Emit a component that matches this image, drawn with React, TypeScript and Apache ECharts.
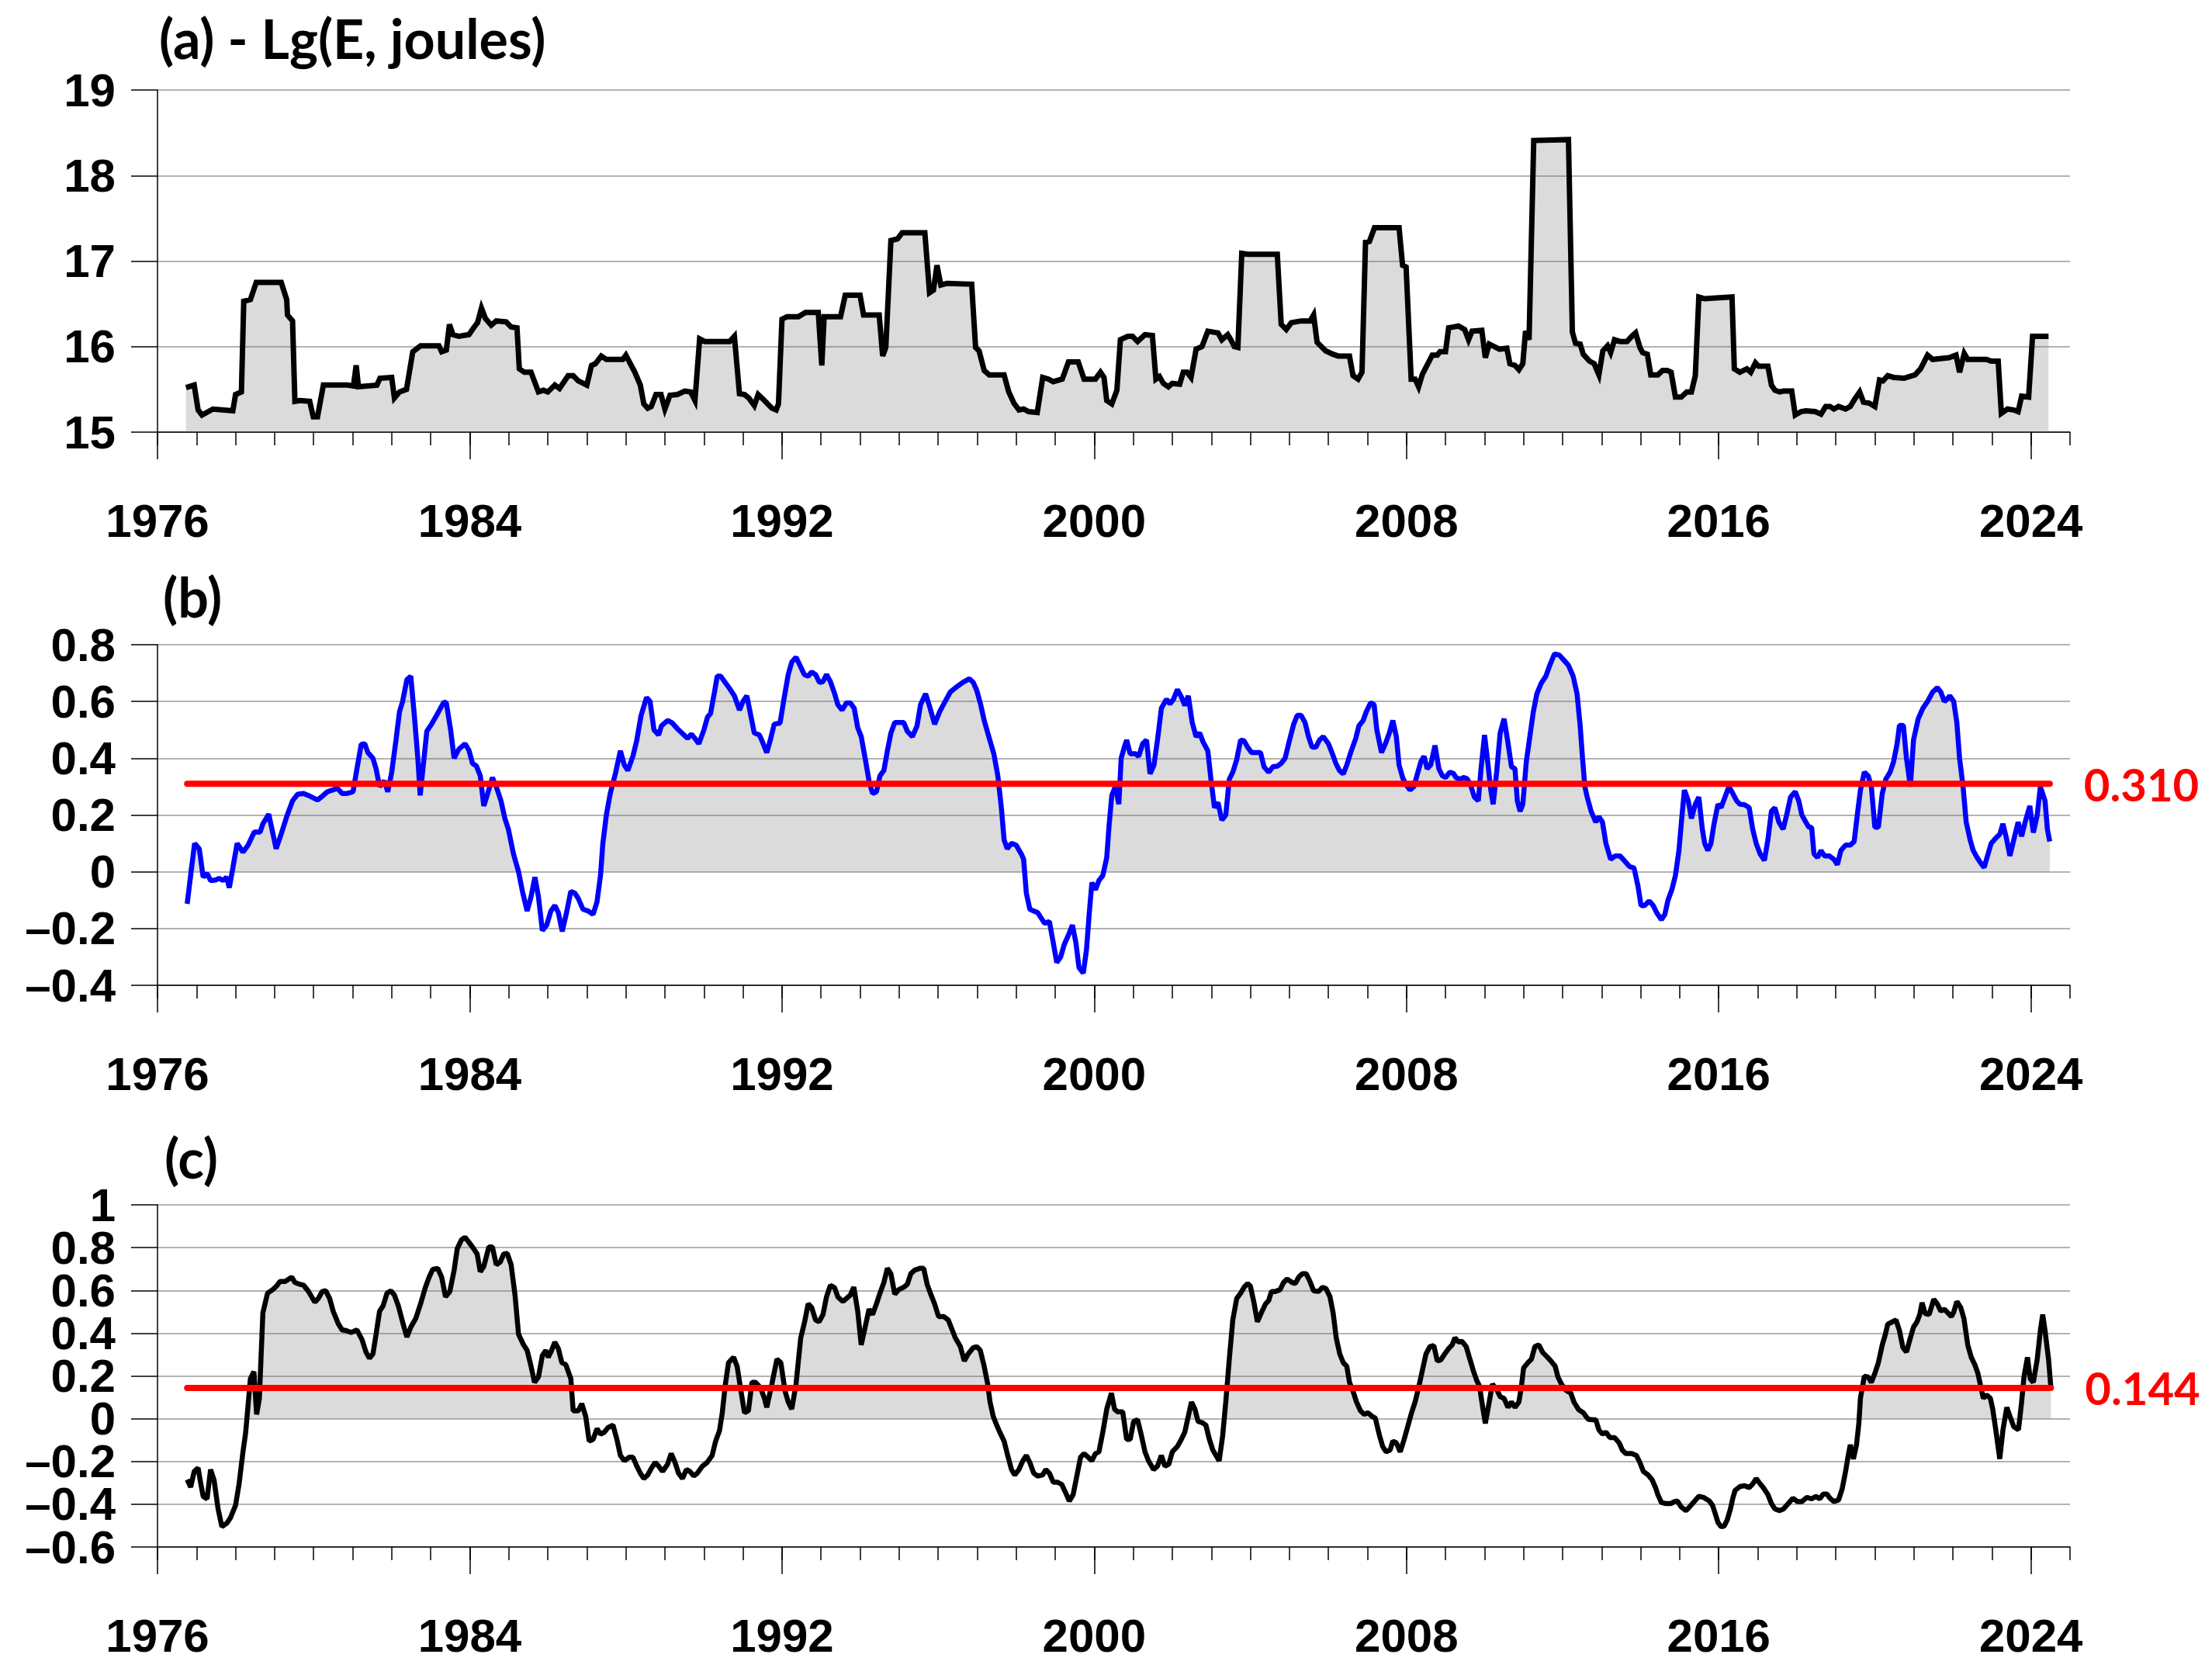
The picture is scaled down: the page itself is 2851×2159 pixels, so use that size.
import React, { useEffect, useRef } from "react";
import * as echarts from "echarts";

const X_MIN = 1976;
const X_MAX = 2025;
const yearLabels = [1976, 1984, 1992, 2000, 2008, 2016, 2024];
const titles = ["(a) - Lg(E, joules)", "(b)", "(c)"];
const thresholdB = 0.31;
const thresholdC = 0.144;

const energyLg: [number, number][] = [
  [1976.73,15.52],[1976.94,15.55],[1977.04,15.26],[1977.14,15.2],[1977.42,15.27],[1977.93,15.25],[1978.0,15.44],[1978.15,15.47],
  [1978.21,16.53],[1978.38,16.55],[1978.53,16.75],[1979.17,16.75],[1979.31,16.55],[1979.33,16.37],[1979.46,16.3],[1979.52,15.36],
  [1979.65,15.37],[1979.9,15.36],[1979.99,15.18],[1980.1,15.18],[1980.25,15.55],[1980.86,15.55],[1981.02,15.54],[1981.09,15.78],
  [1981.15,15.53],[1981.62,15.55],[1981.7,15.63],[1982.0,15.64],[1982.07,15.4],[1982.2,15.47],[1982.38,15.5],[1982.54,15.94],
  [1982.74,16.01],[1983.21,16.01],[1983.28,15.94],[1983.4,15.96],[1983.48,16.26],[1983.57,16.14],[1983.72,16.12],[1983.98,16.14],
  [1984.1,16.22],[1984.2,16.28],[1984.3,16.45],[1984.4,16.33],[1984.55,16.25],[1984.68,16.3],[1984.93,16.29],[1985.06,16.23],
  [1985.21,16.22],[1985.27,15.74],[1985.4,15.7],[1985.57,15.7],[1985.76,15.47],[1985.89,15.49],[1986.0,15.47],[1986.18,15.55],
  [1986.3,15.51],[1986.52,15.66],[1986.65,15.66],[1986.78,15.6],[1987.0,15.55],[1987.12,15.78],[1987.22,15.8],[1987.37,15.89],
  [1987.5,15.85],[1987.92,15.85],[1988.0,15.9],[1988.23,15.7],[1988.37,15.55],[1988.46,15.33],[1988.56,15.28],[1988.65,15.3],
  [1988.77,15.44],[1988.9,15.44],[1989.0,15.27],[1989.13,15.43],[1989.32,15.44],[1989.51,15.48],[1989.66,15.47],[1989.77,15.37],
  [1989.89,16.09],[1990.02,16.06],[1990.66,16.06],[1990.78,16.12],[1990.91,15.45],[1991.04,15.44],[1991.15,15.4],[1991.29,15.31],
  [1991.39,15.44],[1991.55,15.37],[1991.74,15.28],[1991.85,15.26],[1991.91,15.33],[1992.0,16.32],[1992.13,16.35],[1992.42,16.35],
  [1992.6,16.4],[1992.93,16.4],[1993.02,15.78],[1993.08,16.35],[1993.5,16.35],[1993.62,16.6],[1994.0,16.6],[1994.09,16.37],
  [1994.49,16.37],[1994.58,15.89],[1994.66,15.99],[1994.79,17.24],[1994.96,17.26],[1995.08,17.33],[1995.66,17.33],[1995.78,16.63],
  [1995.88,16.66],[1995.97,16.95],[1996.07,16.72],[1996.23,16.74],[1996.86,16.73],[1996.96,15.99],[1997.05,15.95],[1997.18,15.72],
  [1997.31,15.67],[1997.69,15.67],[1997.81,15.47],[1997.94,15.34],[1998.07,15.26],[1998.19,15.27],[1998.32,15.24],[1998.54,15.23],
  [1998.68,15.64],[1998.83,15.62],[1998.95,15.59],[1999.18,15.62],[1999.34,15.82],[1999.59,15.82],[1999.74,15.62],[2000.03,15.62],
  [2000.16,15.7],[2000.25,15.64],[2000.32,15.37],[2000.45,15.33],[2000.58,15.49],[2000.67,16.08],[2000.86,16.12],[2000.98,16.12],
  [2001.11,16.06],[2001.3,16.14],[2001.49,16.13],[2001.58,15.62],[2001.67,15.65],[2001.77,15.57],[2001.9,15.53],[2002.0,15.57],
  [2002.19,15.56],[2002.28,15.7],[2002.38,15.7],[2002.48,15.64],[2002.61,15.97],[2002.76,16.0],[2002.91,16.18],[2003.17,16.16],
  [2003.27,16.08],[2003.42,16.14],[2003.5,16.08],[2003.59,16.0],[2003.68,15.99],[2003.78,17.09],[2003.93,17.08],[2004.69,17.08],
  [2004.79,16.26],[2004.92,16.2],[2005.05,16.28],[2005.3,16.3],[2005.53,16.3],[2005.62,16.37],[2005.71,16.05],[2005.93,15.95],
  [2006.12,15.91],[2006.25,15.89],[2006.54,15.89],[2006.63,15.66],[2006.76,15.62],[2006.86,15.7],[2006.95,17.22],[2007.05,17.23],
  [2007.18,17.39],[2007.81,17.39],[2007.9,16.95],[2007.99,16.93],[2008.12,15.62],[2008.22,15.62],[2008.31,15.53],[2008.41,15.68],
  [2008.57,15.82],[2008.66,15.9],[2008.79,15.9],[2008.86,15.94],[2009.0,15.94],[2009.08,16.22],[2009.21,16.23],[2009.33,16.24],
  [2009.49,16.2],[2009.59,16.08],[2009.68,16.18],[2009.93,16.19],[2010.02,15.87],[2010.12,16.03],[2010.25,16.0],[2010.38,15.97],
  [2010.57,15.98],[2010.65,15.8],[2010.78,15.78],[2010.88,15.73],[2010.98,15.8],[2011.05,16.18],[2011.14,16.08],[2011.26,18.41],
  [2012.15,18.42],[2012.25,16.17],[2012.33,16.04],[2012.45,16.03],[2012.53,15.91],[2012.69,15.83],[2012.81,15.8],[2012.93,15.67],
  [2013.03,15.95],[2013.15,16.01],[2013.23,15.93],[2013.33,16.08],[2013.47,16.06],[2013.65,16.06],[2013.77,16.12],[2013.87,16.16],
  [2013.98,15.99],[2014.05,15.93],[2014.17,15.91],[2014.26,15.67],[2014.44,15.67],[2014.56,15.72],[2014.68,15.72],[2014.78,15.7],
  [2014.89,15.41],[2015.04,15.41],[2015.18,15.47],[2015.3,15.47],[2015.4,15.66],[2015.49,16.58],[2015.64,16.56],[2016.34,16.58],
  [2016.4,15.74],[2016.54,15.7],[2016.72,15.74],[2016.82,15.7],[2016.94,15.81],[2017.02,15.77],[2017.26,15.77],[2017.35,15.55],
  [2017.44,15.49],[2017.56,15.47],[2017.66,15.48],[2017.87,15.48],[2017.96,15.2],[2018.11,15.24],[2018.23,15.25],[2018.47,15.24],
  [2018.62,15.21],[2018.74,15.3],[2018.85,15.3],[2018.95,15.27],[2019.07,15.3],[2019.25,15.27],[2019.37,15.3],[2019.49,15.39],
  [2019.61,15.47],[2019.71,15.35],[2019.85,15.34],[2020.0,15.3],[2020.12,15.61],[2020.21,15.6],[2020.33,15.66],[2020.48,15.64],
  [2020.75,15.63],[2021.03,15.67],[2021.17,15.74],[2021.35,15.9],[2021.48,15.85],[2021.9,15.87],[2022.08,15.9],[2022.17,15.7],
  [2022.29,15.92],[2022.38,15.85],[2022.86,15.85],[2022.98,15.83],[2023.16,15.83],[2023.24,15.22],[2023.4,15.27],[2023.55,15.26],
  [2023.67,15.24],[2023.76,15.42],[2023.94,15.41],[2024.04,16.12],[2024.18,16.12],[2024.45,16.12],
];

const corrB: [number, number][] = [
  [1976.76,-0.113],[1976.95,0.1],[1977.07,0.081],[1977.17,-0.019],[1977.27,-0.006],[1977.36,-0.031],[1977.49,-0.029],[1977.58,-0.023],
  [1977.68,-0.031],[1977.77,-0.019],[1977.84,-0.056],[1977.93,0.013],[1978.04,0.1],[1978.19,0.069],[1978.32,0.094],[1978.48,0.14],
  [1978.63,0.14],[1978.7,0.169],[1978.85,0.203],[1979.04,0.081],[1979.18,0.138],[1979.31,0.194],[1979.46,0.25],[1979.59,0.273],
  [1979.74,0.276],[1979.91,0.266],[1980.1,0.253],[1980.22,0.266],[1980.35,0.282],[1980.48,0.288],[1980.61,0.294],[1980.73,0.276],
  [1980.86,0.276],[1981.01,0.282],[1981.11,0.363],[1981.22,0.449],[1981.31,0.451],[1981.39,0.42],[1981.52,0.4],[1981.6,0.363],
  [1981.69,0.3],[1981.81,0.32],[1981.9,0.282],[1982.0,0.35],[1982.11,0.464],[1982.2,0.564],[1982.28,0.6],[1982.39,0.677],
  [1982.49,0.689],[1982.58,0.551],[1982.67,0.4],[1982.73,0.269],[1982.81,0.376],[1982.9,0.495],[1983.02,0.52],[1983.15,0.551],
  [1983.25,0.576],[1983.34,0.598],[1983.4,0.595],[1983.51,0.5],[1983.6,0.4],[1983.72,0.432],[1983.88,0.451],[1983.98,0.428],
  [1984.07,0.382],[1984.17,0.373],[1984.27,0.338],[1984.36,0.232],[1984.46,0.276],[1984.58,0.332],[1984.68,0.3],[1984.8,0.25],
  [1984.9,0.188],[1984.99,0.15],[1985.12,0.063],[1985.25,0.0],[1985.35,-0.069],[1985.47,-0.138],[1985.57,-0.088],[1985.67,-0.019],
  [1985.76,-0.088],[1985.86,-0.207],[1985.97,-0.188],[1986.08,-0.138],[1986.18,-0.119],[1986.27,-0.144],[1986.37,-0.21],[1986.48,-0.144],
  [1986.59,-0.069],[1986.69,-0.075],[1986.78,-0.094],[1986.9,-0.132],[1987.03,-0.138],[1987.16,-0.15],[1987.26,-0.106],[1987.35,-0.013],
  [1987.41,0.1],[1987.5,0.2],[1987.6,0.276],[1987.73,0.345],[1987.86,0.426],[1987.96,0.376],[1988.05,0.357],[1988.18,0.407],
  [1988.28,0.464],[1988.39,0.551],[1988.53,0.614],[1988.62,0.6],[1988.72,0.5],[1988.84,0.482],[1988.91,0.514],[1989.07,0.533],
  [1989.19,0.524],[1989.32,0.504],[1989.49,0.482],[1989.58,0.47],[1989.68,0.485],[1989.77,0.47],[1989.87,0.451],[1990.0,0.5],
  [1990.09,0.545],[1990.17,0.558],[1990.27,0.633],[1990.34,0.689],[1990.43,0.689],[1990.53,0.67],[1990.66,0.645],[1990.78,0.62],
  [1990.91,0.57],[1991.0,0.6],[1991.1,0.62],[1991.19,0.558],[1991.29,0.489],[1991.42,0.482],[1991.48,0.464],[1991.61,0.42],
  [1991.7,0.464],[1991.8,0.52],[1991.95,0.524],[1992.04,0.6],[1992.16,0.695],[1992.25,0.739],[1992.36,0.756],[1992.46,0.727],
  [1992.57,0.695],[1992.67,0.689],[1992.76,0.704],[1992.86,0.695],[1992.96,0.667],[1993.05,0.67],[1993.14,0.695],[1993.24,0.67],
  [1993.35,0.627],[1993.43,0.589],[1993.54,0.57],[1993.65,0.595],[1993.75,0.595],[1993.85,0.576],[1993.94,0.508],[1994.03,0.476],
  [1994.13,0.4],[1994.23,0.32],[1994.32,0.276],[1994.42,0.282],[1994.51,0.338],[1994.61,0.357],[1994.7,0.426],[1994.79,0.489],
  [1994.89,0.526],[1995.12,0.526],[1995.21,0.495],[1995.34,0.476],[1995.46,0.514],[1995.55,0.589],[1995.68,0.627],[1995.78,0.583],
  [1995.91,0.52],[1996.04,0.564],[1996.16,0.595],[1996.31,0.633],[1996.48,0.652],[1996.64,0.668],[1996.8,0.68],[1996.9,0.667],
  [1996.99,0.639],[1997.09,0.589],[1997.18,0.533],[1997.3,0.476],[1997.43,0.414],[1997.53,0.338],[1997.62,0.226],[1997.69,0.113],
  [1997.77,0.081],[1997.88,0.1],[1998.0,0.094],[1998.13,0.063],[1998.19,0.044],[1998.26,-0.075],[1998.35,-0.132],[1998.45,-0.138],
  [1998.55,-0.144],[1998.64,-0.163],[1998.73,-0.182],[1998.85,-0.175],[1998.95,-0.25],[1999.04,-0.32],[1999.14,-0.3],[1999.23,-0.257],
  [1999.33,-0.226],[1999.44,-0.188],[1999.53,-0.25],[1999.61,-0.338],[1999.72,-0.357],[1999.8,-0.276],[1999.87,-0.15],[1999.94,-0.038],
  [2000.03,-0.063],[2000.12,-0.031],[2000.22,-0.013],[2000.32,0.05],[2000.38,0.163],[2000.45,0.269],[2000.54,0.3],[2000.63,0.238],
  [2000.69,0.4],[2000.77,0.439],[2000.83,0.464],[2000.92,0.416],[2001.05,0.416],[2001.14,0.407],[2001.24,0.451],[2001.34,0.464],
  [2001.43,0.345],[2001.53,0.376],[2001.62,0.464],[2001.72,0.576],[2001.85,0.608],[2001.94,0.591],[2002.03,0.608],[2002.13,0.642],
  [2002.23,0.617],[2002.32,0.586],[2002.41,0.62],[2002.51,0.526],[2002.61,0.476],[2002.7,0.489],[2002.79,0.457],[2002.91,0.426],
  [2002.99,0.326],[2003.08,0.226],[2003.17,0.244],[2003.27,0.182],[2003.37,0.2],[2003.46,0.326],[2003.55,0.351],[2003.65,0.395],
  [2003.75,0.464],[2003.84,0.461],[2003.93,0.439],[2004.03,0.42],[2004.26,0.42],[2004.35,0.37],[2004.47,0.351],[2004.58,0.37],
  [2004.69,0.372],[2004.79,0.382],[2004.89,0.4],[2004.98,0.451],[2005.11,0.52],[2005.2,0.551],[2005.3,0.551],[2005.4,0.526],
  [2005.49,0.476],[2005.58,0.439],[2005.68,0.439],[2005.77,0.464],[2005.87,0.476],[2006.0,0.451],[2006.09,0.42],[2006.19,0.382],
  [2006.28,0.357],[2006.38,0.345],[2006.47,0.376],[2006.57,0.42],[2006.7,0.47],[2006.78,0.514],[2006.89,0.533],[2006.97,0.564],
  [2007.08,0.595],[2007.17,0.589],[2007.24,0.5],[2007.36,0.42],[2007.46,0.451],[2007.56,0.489],[2007.65,0.533],[2007.74,0.476],
  [2007.81,0.376],[2007.9,0.332],[2007.99,0.307],[2008.09,0.288],[2008.19,0.3],[2008.28,0.345],[2008.37,0.388],[2008.45,0.407],
  [2008.53,0.363],[2008.62,0.376],[2008.73,0.445],[2008.83,0.363],[2008.92,0.338],[2009.0,0.332],[2009.11,0.351],[2009.2,0.347],
  [2009.27,0.332],[2009.36,0.326],[2009.46,0.332],[2009.55,0.328],[2009.64,0.307],[2009.74,0.263],[2009.84,0.25],[2009.91,0.363],
  [2010.0,0.482],[2010.08,0.388],[2010.16,0.288],[2010.22,0.238],[2010.31,0.351],[2010.4,0.489],[2010.5,0.539],[2010.59,0.464],
  [2010.69,0.37],[2010.78,0.363],[2010.84,0.25],[2010.91,0.213],[2010.98,0.238],[2011.07,0.388],[2011.16,0.476],[2011.25,0.564],
  [2011.34,0.627],[2011.45,0.664],[2011.57,0.689],[2011.67,0.727],[2011.79,0.767],[2011.91,0.764],[2012.03,0.746],[2012.15,0.727],
  [2012.27,0.689],[2012.37,0.627],[2012.45,0.514],[2012.51,0.4],[2012.57,0.3],[2012.63,0.263],[2012.73,0.213],[2012.85,0.175],
  [2012.93,0.194],[2013.02,0.175],[2013.11,0.1],[2013.23,0.044],[2013.35,0.056],[2013.47,0.056],[2013.59,0.038],[2013.71,0.019],
  [2013.83,0.013],[2013.93,-0.05],[2014.01,-0.119],[2014.1,-0.119],[2014.22,-0.103],[2014.32,-0.119],[2014.41,-0.144],[2014.53,-0.169],
  [2014.62,-0.15],[2014.7,-0.1],[2014.8,-0.063],[2014.89,-0.013],[2014.98,0.075],[2015.06,0.2],[2015.12,0.288],[2015.22,0.25],
  [2015.3,0.188],[2015.4,0.238],[2015.49,0.263],[2015.58,0.15],[2015.64,0.1],[2015.72,0.075],[2015.8,0.1],[2015.88,0.169],
  [2015.98,0.238],[2016.06,0.226],[2016.16,0.263],[2016.26,0.3],[2016.36,0.276],[2016.46,0.25],[2016.54,0.238],[2016.66,0.236],
  [2016.78,0.226],[2016.87,0.15],[2016.96,0.1],[2017.06,0.063],[2017.17,0.04],[2017.26,0.113],[2017.35,0.213],[2017.44,0.226],
  [2017.54,0.175],[2017.65,0.15],[2017.74,0.2],[2017.84,0.263],[2017.96,0.282],[2018.05,0.25],[2018.13,0.2],[2018.23,0.175],
  [2018.31,0.157],[2018.38,0.157],[2018.44,0.063],[2018.53,0.05],[2018.62,0.075],[2018.71,0.056],[2018.83,0.056],[2018.95,0.044],
  [2019.04,0.025],[2019.13,0.075],[2019.25,0.094],[2019.37,0.094],[2019.47,0.107],[2019.55,0.2],[2019.63,0.288],[2019.73,0.351],
  [2019.83,0.338],[2019.91,0.3],[2020.0,0.157],[2020.09,0.157],[2020.19,0.276],[2020.28,0.326],[2020.39,0.351],[2020.48,0.388],
  [2020.57,0.451],[2020.63,0.516],[2020.73,0.516],[2020.81,0.4],[2020.91,0.3],[2020.99,0.464],[2021.11,0.539],[2021.23,0.576],
  [2021.35,0.6],[2021.48,0.633],[2021.6,0.649],[2021.69,0.633],[2021.78,0.6],[2021.85,0.608],[2021.92,0.62],[2022.02,0.6],
  [2022.1,0.526],[2022.17,0.4],[2022.26,0.3],[2022.34,0.175],[2022.44,0.113],[2022.52,0.075],[2022.62,0.05],[2022.71,0.031],
  [2022.8,0.015],[2022.9,0.063],[2022.98,0.1],[2023.1,0.119],[2023.2,0.132],[2023.28,0.169],[2023.36,0.125],[2023.46,0.056],
  [2023.56,0.113],[2023.67,0.175],[2023.76,0.125],[2023.85,0.175],[2023.97,0.232],[2024.06,0.138],[2024.16,0.2],[2024.24,0.3],
  [2024.36,0.25],[2024.42,0.15],[2024.48,0.107],
];

const corrC: [number, number][] = [
  [1976.76,-0.285],[1976.85,-0.32],[1976.94,-0.247],[1977.04,-0.23],[1977.11,-0.305],[1977.17,-0.363],[1977.27,-0.375],[1977.36,-0.238],
  [1977.45,-0.288],[1977.55,-0.42],[1977.65,-0.505],[1977.78,-0.488],[1977.87,-0.463],[1978.0,-0.405],[1978.09,-0.305],[1978.19,-0.155],
  [1978.26,-0.063],[1978.32,0.062],[1978.38,0.187],[1978.47,0.22],[1978.54,0.02],[1978.61,0.095],[1978.7,0.495],[1978.82,0.587],
  [1978.95,0.603],[1979.05,0.62],[1979.14,0.642],[1979.27,0.642],[1979.44,0.662],[1979.52,0.637],[1979.65,0.628],[1979.74,0.625],
  [1979.87,0.595],[1980.03,0.545],[1980.12,0.562],[1980.22,0.595],[1980.31,0.598],[1980.41,0.562],[1980.5,0.503],[1980.63,0.445],
  [1980.73,0.415],[1980.83,0.412],[1980.96,0.403],[1981.11,0.415],[1981.24,0.37],[1981.34,0.312],[1981.43,0.283],[1981.52,0.303],
  [1981.6,0.395],[1981.69,0.503],[1981.78,0.528],[1981.88,0.587],[1981.98,0.598],[1982.07,0.578],[1982.17,0.528],[1982.29,0.445],
  [1982.39,0.382],[1982.49,0.428],[1982.62,0.47],[1982.74,0.537],[1982.86,0.612],[1982.96,0.662],[1983.05,0.698],[1983.18,0.703],
  [1983.28,0.662],[1983.38,0.57],[1983.49,0.595],[1983.6,0.695],[1983.68,0.795],[1983.79,0.837],[1983.88,0.848],[1983.98,0.825],
  [1984.1,0.795],[1984.19,0.77],[1984.27,0.687],[1984.36,0.712],[1984.49,0.803],[1984.58,0.803],[1984.68,0.72],[1984.78,0.732],
  [1984.87,0.77],[1984.96,0.773],[1985.06,0.72],[1985.16,0.578],[1985.25,0.395],[1985.38,0.345],[1985.47,0.32],[1985.57,0.245],
  [1985.66,0.17],[1985.76,0.195],[1985.86,0.295],[1985.95,0.32],[1986.01,0.287],[1986.08,0.312],[1986.18,0.358],[1986.27,0.328],
  [1986.36,0.262],[1986.46,0.253],[1986.59,0.187],[1986.65,0.037],[1986.78,0.037],[1986.87,0.07],[1986.97,0.012],[1987.06,-0.105],
  [1987.16,-0.097],[1987.26,-0.047],[1987.35,-0.072],[1987.45,-0.063],[1987.54,-0.042],[1987.67,-0.03],[1987.77,-0.097],[1987.86,-0.172],
  [1987.96,-0.197],[1988.09,-0.18],[1988.18,-0.18],[1988.28,-0.222],[1988.37,-0.255],[1988.46,-0.28],[1988.56,-0.263],[1988.66,-0.23],
  [1988.75,-0.205],[1988.84,-0.222],[1988.94,-0.247],[1989.07,-0.213],[1989.16,-0.163],[1989.26,-0.205],[1989.35,-0.255],[1989.45,-0.28],
  [1989.55,-0.238],[1989.64,-0.247],[1989.74,-0.268],[1989.83,-0.255],[1989.96,-0.222],[1990.08,-0.205],[1990.21,-0.172],[1990.3,-0.105],
  [1990.4,-0.055],[1990.47,0.028],[1990.55,0.162],[1990.63,0.262],[1990.76,0.287],[1990.85,0.245],[1990.95,0.128],[1991.04,0.028],
  [1991.14,0.037],[1991.23,0.17],[1991.32,0.17],[1991.45,0.145],[1991.55,0.095],[1991.61,0.053],[1991.74,0.162],[1991.87,0.278],
  [1991.97,0.262],[1992.08,0.128],[1992.16,0.078],[1992.25,0.045],[1992.36,0.162],[1992.48,0.378],[1992.58,0.453],[1992.67,0.537],
  [1992.76,0.52],[1992.86,0.462],[1992.95,0.453],[1993.05,0.487],[1993.14,0.57],[1993.24,0.623],[1993.35,0.612],[1993.43,0.57],
  [1993.56,0.548],[1993.65,0.562],[1993.75,0.578],[1993.84,0.615],[1993.94,0.503],[1994.03,0.345],[1994.13,0.428],[1994.23,0.512],
  [1994.32,0.487],[1994.42,0.537],[1994.51,0.587],[1994.61,0.637],[1994.7,0.703],[1994.79,0.678],[1994.89,0.582],[1994.99,0.603],
  [1995.12,0.615],[1995.21,0.628],[1995.3,0.678],[1995.4,0.695],[1995.53,0.703],[1995.63,0.703],[1995.72,0.628],[1995.82,0.578],
  [1995.91,0.537],[1996.01,0.478],[1996.14,0.478],[1996.26,0.462],[1996.35,0.42],[1996.44,0.378],[1996.57,0.337],[1996.67,0.27],
  [1996.77,0.303],[1996.9,0.332],[1996.99,0.337],[1997.08,0.32],[1997.18,0.245],[1997.27,0.162],[1997.33,0.078],[1997.41,0.012],
  [1997.5,-0.03],[1997.58,-0.063],[1997.69,-0.105],[1997.77,-0.163],[1997.88,-0.238],[1997.96,-0.263],[1998.07,-0.238],[1998.17,-0.197],
  [1998.26,-0.172],[1998.35,-0.205],[1998.45,-0.255],[1998.55,-0.268],[1998.68,-0.263],[1998.76,-0.238],[1998.85,-0.255],[1998.95,-0.297],
  [1999.06,-0.297],[1999.17,-0.308],[1999.27,-0.347],[1999.36,-0.385],[1999.46,-0.355],[1999.55,-0.272],[1999.65,-0.18],[1999.74,-0.163],
  [1999.84,-0.18],[1999.94,-0.197],[2000.03,-0.163],[2000.12,-0.155],[2000.22,-0.063],[2000.32,0.045],[2000.44,0.12],[2000.52,0.045],
  [2000.6,0.032],[2000.73,0.032],[2000.83,-0.097],[2000.92,-0.097],[2001.01,-0.013],[2001.11,-0.005],[2001.2,-0.072],[2001.3,-0.155],
  [2001.39,-0.197],[2001.52,-0.238],[2001.62,-0.222],[2001.72,-0.172],[2001.81,-0.222],[2001.91,-0.213],[2002.0,-0.155],[2002.13,-0.13],
  [2002.23,-0.097],[2002.32,-0.063],[2002.38,-0.013],[2002.49,0.078],[2002.58,0.045],[2002.66,-0.013],[2002.76,-0.018],[2002.86,-0.03],
  [2002.95,-0.097],[2003.04,-0.147],[2003.12,-0.172],[2003.2,-0.197],[2003.29,-0.08],[2003.37,0.078],[2003.46,0.278],[2003.55,0.462],
  [2003.65,0.562],[2003.75,0.587],[2003.84,0.615],[2003.93,0.632],[2004.0,0.62],[2004.09,0.545],[2004.18,0.453],[2004.28,0.495],
  [2004.39,0.537],[2004.47,0.553],[2004.54,0.595],[2004.64,0.595],[2004.76,0.603],[2004.85,0.637],[2004.94,0.653],[2005.07,0.637],
  [2005.15,0.632],[2005.24,0.662],[2005.33,0.678],[2005.43,0.678],[2005.52,0.645],[2005.62,0.598],[2005.75,0.595],[2005.85,0.615],
  [2005.94,0.608],[2006.04,0.57],[2006.12,0.495],[2006.2,0.378],[2006.29,0.303],[2006.38,0.262],[2006.47,0.245],[2006.54,0.17],
  [2006.63,0.128],[2006.72,0.078],[2006.82,0.037],[2006.92,0.02],[2007.01,0.028],[2007.11,0.012],[2007.2,0.003],[2007.31,-0.08],
  [2007.39,-0.13],[2007.48,-0.155],[2007.58,-0.147],[2007.65,-0.105],[2007.74,-0.113],[2007.84,-0.155],[2007.94,-0.097],[2008.03,-0.038],
  [2008.13,0.028],[2008.22,0.078],[2008.31,0.145],[2008.41,0.228],[2008.5,0.303],[2008.6,0.337],[2008.7,0.342],[2008.79,0.27],
  [2008.88,0.275],[2008.98,0.303],[2009.08,0.328],[2009.17,0.345],[2009.24,0.378],[2009.34,0.358],[2009.42,0.362],[2009.53,0.337],
  [2009.61,0.287],[2009.72,0.22],[2009.8,0.178],[2009.87,0.153],[2009.96,0.045],[2010.02,-0.022],[2010.12,0.078],[2010.2,0.162],
  [2010.31,0.137],[2010.4,0.103],[2010.5,0.095],[2010.6,0.053],[2010.69,0.078],[2010.78,0.053],[2010.88,0.078],[2010.94,0.145],
  [2011.0,0.237],[2011.11,0.262],[2011.2,0.278],[2011.29,0.337],[2011.39,0.345],[2011.49,0.31],[2011.6,0.29],[2011.7,0.27],
  [2011.81,0.245],[2011.88,0.195],[2011.97,0.162],[2012.09,0.132],[2012.21,0.12],[2012.29,0.078],[2012.41,0.042],[2012.53,0.028],
  [2012.65,-0.002],[2012.75,-0.005],[2012.85,-0.005],[2012.93,-0.052],[2013.02,-0.072],[2013.11,-0.063],[2013.21,-0.088],[2013.33,-0.088],
  [2013.45,-0.113],[2013.53,-0.147],[2013.62,-0.163],[2013.77,-0.163],[2013.89,-0.172],[2013.98,-0.205],[2014.07,-0.247],[2014.19,-0.263],
  [2014.29,-0.285],[2014.38,-0.322],[2014.44,-0.355],[2014.53,-0.392],[2014.65,-0.397],[2014.77,-0.397],[2014.86,-0.388],[2014.94,-0.385],
  [2015.04,-0.413],[2015.16,-0.43],[2015.25,-0.413],[2015.37,-0.388],[2015.49,-0.363],[2015.61,-0.368],[2015.76,-0.385],[2015.84,-0.405],
  [2015.9,-0.438],[2015.98,-0.485],[2016.06,-0.505],[2016.14,-0.502],[2016.22,-0.472],[2016.3,-0.422],[2016.36,-0.372],[2016.42,-0.335],
  [2016.54,-0.318],[2016.66,-0.313],[2016.78,-0.322],[2016.87,-0.305],[2016.96,-0.28],[2017.05,-0.302],[2017.14,-0.322],[2017.26,-0.355],
  [2017.35,-0.397],[2017.44,-0.422],[2017.56,-0.43],[2017.66,-0.422],[2017.78,-0.397],[2017.9,-0.372],[2018.02,-0.388],[2018.13,-0.388],
  [2018.26,-0.368],[2018.38,-0.375],[2018.49,-0.363],[2018.59,-0.375],[2018.68,-0.352],[2018.77,-0.352],[2018.85,-0.372],[2018.95,-0.388],
  [2019.07,-0.38],[2019.16,-0.33],[2019.25,-0.247],[2019.31,-0.18],[2019.37,-0.122],[2019.45,-0.188],[2019.53,-0.122],[2019.59,-0.022],
  [2019.63,0.095],[2019.73,0.198],[2019.83,0.195],[2019.91,0.17],[2020.0,0.212],[2020.09,0.262],[2020.19,0.345],[2020.27,0.395],
  [2020.33,0.442],[2020.45,0.453],[2020.54,0.462],[2020.63,0.412],[2020.72,0.332],[2020.81,0.312],[2020.91,0.378],[2020.99,0.428],
  [2021.08,0.453],[2021.15,0.487],[2021.21,0.542],[2021.29,0.492],[2021.39,0.487],[2021.51,0.558],[2021.6,0.537],[2021.69,0.503],
  [2021.78,0.512],[2021.87,0.495],[2021.96,0.478],[2022.02,0.498],[2022.1,0.548],[2022.2,0.52],[2022.28,0.47],[2022.38,0.345],
  [2022.47,0.287],[2022.56,0.253],[2022.64,0.212],[2022.71,0.153],[2022.78,0.095],[2022.86,0.112],[2022.96,0.095],[2023.02,0.045],
  [2023.1,-0.055],[2023.2,-0.188],[2023.28,-0.055],[2023.38,0.053],[2023.46,0.012],[2023.56,-0.038],[2023.68,-0.052],[2023.76,0.078],
  [2023.82,0.195],[2023.91,0.287],[2023.98,0.187],[2024.06,0.17],[2024.16,0.278],[2024.24,0.412],[2024.3,0.487],[2024.36,0.412],
  [2024.45,0.278],[2024.51,0.145],
];

const AXIS_FONT = "'Liberation Sans', Arial, sans-serif";
const TITLE_FONT = "Lato, 'Open Sans', sans-serif";

const grids = [
  { left: 203, right: 183, top: 116, height: 441 },
  { left: 203, right: 183, top: 831, height: 439 },
  { left: 203, right: 183, top: 1553, height: 441 },
];
const titlePos = [
  { left: 205, top: 14 },
  { left: 210, top: 734 },
  { left: 212, top: 1457 },
];
const yRanges = [
  { min: 15, max: 19, interval: 1 },
  { min: -0.4, max: 0.8, interval: 0.2 },
  { min: -0.6, max: 1, interval: 0.2 },
];

function yText(v: number): string {
  const r = Math.round(v * 10) / 10;
  if (r === 0) return "0";
  return (r < 0 ? "\u2013" : "") + String(Math.abs(r));
}

// Labels of one panel are split over two overlaid axes (alternate ticks),
// so that the tight label spacing never makes the library drop a label.
function yFormatter(r: { min: number; interval: number }, parity: number) {
  return (v: number) => {
    const k = Math.round((v - r.min) / r.interval);
    return k % 2 === parity ? yText(v) : "";
  };
}

const axisColor = "#000";
const labelStyle = { fontFamily: AXIS_FONT, fontWeight: "bold" as const, fontSize: 60, color: "#000" };

function buildOption() {
  const xAxis: any[] = [];
  grids.forEach((_, i) => {
    xAxis.push({
      gridIndex: i,
      type: "value",
      position: "bottom",
      min: X_MIN,
      max: X_MAX,
      interval: 1,
      axisLine: { show: true, onZero: false, lineStyle: { color: axisColor, width: 1.5 } },
      axisTick: { show: true, length: 17, lineStyle: { color: axisColor, width: 1.5 } },
      axisLabel: {
        ...labelStyle,
        margin: 84,
        customValues: yearLabels,
        formatter: (v: number) => (yearLabels.indexOf(Math.round(v)) >= 0 ? String(Math.round(v)) : ""),
      },
      splitLine: { show: false },
    });
    xAxis.push({
      gridIndex: i,
      type: "value",
      position: "bottom",
      min: X_MIN,
      max: X_MAX,
      interval: 8,
      axisLine: { show: false, onZero: false },
      axisTick: { show: true, length: 35, customValues: yearLabels, lineStyle: { color: axisColor, width: 1.5 } },
      axisLabel: { show: false },
      splitLine: { show: false },
    });
  });

  const yAxis: any[] = [];
  yRanges.forEach((r, i) => {
    yAxis.push({
      gridIndex: i,
      type: "value",
      position: "left",
      min: r.min,
      max: r.max,
      interval: r.interval,
      axisLine: { show: true, onZero: false, lineStyle: { color: axisColor, width: 1.5 } },
      axisTick: { show: true, length: 34, lineStyle: { color: axisColor, width: 1.5 } },
      axisLabel: { ...labelStyle, margin: 54, showMinLabel: true, showMaxLabel: true, formatter: yFormatter(r, 0) },
      splitLine: { show: true, lineStyle: { color: "#9a9a9a", width: 1.5 } },
    });
  });
  yRanges.forEach((r, i) => {
    yAxis.push({
      gridIndex: i,
      type: "value",
      position: "left",
      offset: 0,
      min: r.min,
      max: r.max,
      interval: r.interval,
      axisLine: { show: false, onZero: false },
      axisTick: { show: false },
      axisLabel: { ...labelStyle, margin: 54, showMinLabel: true, showMaxLabel: true, formatter: yFormatter(r, 1) },
      splitLine: { show: false },
    });
  });

  const areaFill = { color: "#6e6e6e", opacity: 0.25 };

  const series: any[] = [
    {
      type: "line",
      xAxisIndex: 0,
      yAxisIndex: 0,
      data: energyLg,
      symbol: "none",
      lineStyle: { color: "#000", width: 7, join: "miter" },
      areaStyle: { ...areaFill, origin: "start" },
      z: 3,
    },
  ];

  const corrPanels = [
    { data: corrB, color: "#0000ff", threshold: thresholdB, grid: 1 },
    { data: corrC, color: "#000000", threshold: thresholdC, grid: 2 },
  ];
  corrPanels.forEach((p) => {
    series.push({
      type: "line",
      xAxisIndex: p.grid * 2,
      yAxisIndex: p.grid,
      data: p.data.map(([x, y]) => [x, Math.max(y, 0)]),
      symbol: "none",
      lineStyle: { width: 0, opacity: 0 },
      areaStyle: { ...areaFill },
      silent: true,
      z: 2,
    });
    series.push({
      type: "line",
      xAxisIndex: p.grid * 2,
      yAxisIndex: p.grid,
      data: p.data,
      symbol: "none",
      lineStyle: { color: p.color, width: 6.5 },
      z: 3,
    });
    series.push({
      type: "line",
      xAxisIndex: p.grid * 2,
      yAxisIndex: p.grid,
      data: [
        [p.data[0][0], p.threshold],
        [p.data[p.data.length - 1][0], p.threshold],
      ],
      symbol: "none",
      lineStyle: { color: "#ff0000", width: 8, cap: "round" },
      endLabel: {
        show: true,
        formatter: () => p.threshold.toFixed(3),
        color: "#ff0000",
        fontFamily: TITLE_FONT,
        fontWeight: "bold",
        fontSize: 58,
        distance: 44,
      },
      z: 5,
    });
  });

  const title = titles.map((t, i) => ({
    text: t,
    left: titlePos[i].left,
    top: titlePos[i].top,
    padding: 0,
    textStyle: { fontFamily: TITLE_FONT, fontWeight: "bold", fontSize: 70, color: "#000" },
  }));

  return {
    animation: false,
    backgroundColor: "#ffffff",
    title,
    grid: grids,
    xAxis,
    yAxis,
    series,
  };
}

export default function App() {
  const ref = useRef<HTMLDivElement>(null);
  useEffect(() => {
    if (!ref.current) return;
    const chart = echarts.init(ref.current, null, { renderer: "svg" });
    chart.setOption(buildOption() as any);
    return () => chart.dispose();
  }, []);
  return (
    <div
      ref={ref}
      style={{ position: "fixed", left: 0, top: 0, width: 2851, height: 2159, background: "#fff" }}
    />
  );
}
